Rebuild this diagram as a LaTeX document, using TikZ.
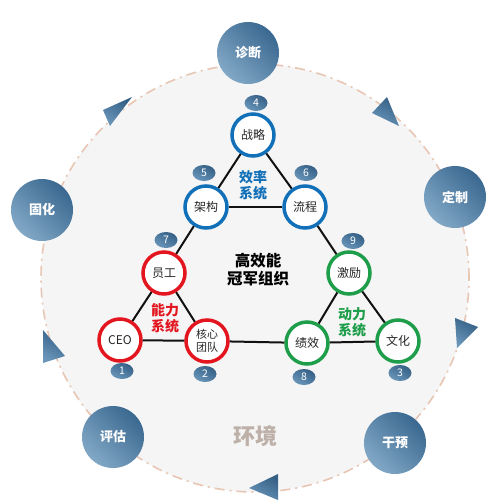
\documentclass[tikz,border=0pt]{standalone}
\usepackage{fontspec}
\setmainfont{Noto Sans CJK SC}
\usetikzlibrary{shapes.geometric}
\definecolor{bgfill}{HTML}{F5F5F5}
\definecolor{ringc}{HTML}{E8C6B4}
\definecolor{odark}{HTML}{3A6890}
\definecolor{olight}{HTML}{82A8C6}
\definecolor{bdark}{HTML}{355F85}
\definecolor{blight}{HTML}{6A96BA}
\definecolor{nblue}{HTML}{1170B8}
\definecolor{nred}{HTML}{E3161F}
\definecolor{ngreen}{HTML}{1E9E4A}
\definecolor{envc}{HTML}{BDB0A8}
\definecolor{edgec}{HTML}{111111}
\tikzset{
  outerc/.style={circle, minimum size=62pt, inner sep=0pt, top color=odark, bottom color=olight, shading angle=-45,
    text=white, font=\fontsize{13}{15}\selectfont\bfseries},
  innerc/.style={circle, minimum size=42pt, inner sep=0pt, line width=3.5pt, fill=white, text=black!85,
    font=\fontsize{12}{13}\selectfont, align=center},
  badge/.style={ellipse, minimum width=23pt, minimum height=16pt, inner sep=0pt, top color=bdark, bottom color=blight,
    shading angle=-30, text=white, font=\fontsize{10.5}{10.5}\selectfont},
  tri/.style={top color=bdark, bottom color=blight, shading angle=-30},
  edge/.style={draw=edgec, line width=2pt},
  systxt/.style={font=\fontsize{14}{16}\selectfont\bfseries, align=center}
}
\begin{document}
\begin{tikzpicture}[x=1pt,y=-1pt]
\useasboundingbox (0,0) rectangle (503,501);
% environment ring
\fill[white] (0,0) rectangle (503,501);
\path[fill=bgfill, draw=ringc, line width=1.6pt, dash pattern=on 10pt off 5pt on 2pt off 5pt] (255,278) circle[radius=214pt];
% direction triangles
\path[tri] (103,110) -- (132,97) -- (110,126) -- cycle;
\path[tri] (387,97) -- (372,113) -- (399,126) -- cycle;
\path[tri] (455,318) -- (478,327) -- (457,348) -- cycle;
\path[tri] (278,474) -- (278,500) -- (249,488) -- cycle;
\path[tri] (43,330) -- (65,356) -- (43,363) -- cycle;
% outer circles
\node[outerc] (zd) at (248,53) {诊断};
\node[outerc] (dz) at (455,197) {定制};
\node[outerc] (gy) at (395,443) {干预};
\node[outerc] (pg) at (113,437) {评估};
\node[outerc] (gh) at (42,210) {固化};
% environment label
\node[font=\fontsize{22}{24}\selectfont\bfseries, text=envc] (env) at (255,436) {环境};
% inner nodes
\node[innerc, draw=nblue] (zl) at (253,135) {战略};
\node[innerc, draw=nblue] (jg) at (206,207) {架构};
\node[innerc, draw=nblue] (lc) at (305,207) {流程};
\node[innerc, draw=nred] (yg) at (164,273) {员工};
\node[innerc, draw=nred] (ceo) at (120,340) {CEO};
\node[innerc, draw=nred, font=\fontsize{11}{13}\selectfont] (hx) at (207,341) {核心\\团队};
\node[innerc, draw=ngreen] (jx) at (307,343) {绩效};
\node[innerc, draw=ngreen] (jl) at (349,273) {激励};
\node[innerc, draw=ngreen] (wh) at (398,341) {文化};
% edges
\draw[edge] (zl) -- (jg);
\draw[edge] (zl) -- (lc);
\draw[edge] (jg) -- (lc);
\draw[edge] (jg) -- (yg);
\draw[edge] (lc) -- (jl);
\draw[edge] (yg) -- (ceo);
\draw[edge] (yg) -- (hx);
\draw[edge] (ceo) -- (hx);
\draw[edge] (hx) -- (jx);
\draw[edge] (jl) -- (jx);
\draw[edge] (jl) -- (wh);
\draw[edge] (jx) -- (wh);
% badges
\node[badge] (b4) at (256,103) {4};
\node[badge] (b5) at (204,173) {5};
\node[badge] (b6) at (306,173) {6};
\node[badge] (b7) at (166,240) {7};
\node[badge] (b9) at (353,241) {9};
\node[badge] (b1) at (122,371) {1};
\node[badge] (b2) at (205,374) {2};
\node[badge] (b8) at (304,377) {8};
\node[badge] (b3) at (400,373) {3};
% system labels
\node[systxt, text=nblue] (xl) at (253,185) {效率\\系统};
\node[systxt, text=nred] (nl) at (165,318) {能力\\系统};
\node[systxt, text=ngreen] (dl) at (352,322) {动力\\系统};
\node[font=\fontsize{15.5}{18}\selectfont\bfseries, align=center, text=black] (core) at (258,270) {高效能\\冠军组织};
\end{tikzpicture}
\end{document}
